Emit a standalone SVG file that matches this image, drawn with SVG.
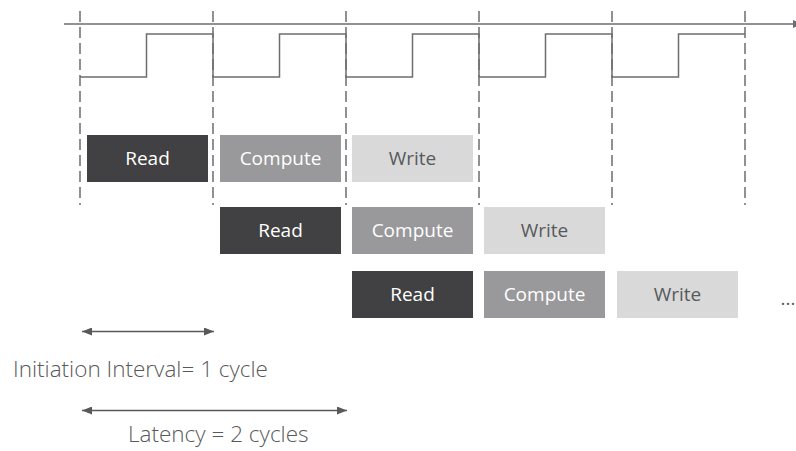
<svg xmlns="http://www.w3.org/2000/svg" width="796" height="451" viewBox="0 0 796 451">
  <style>
    .axis { stroke: #6d6e71; stroke-width: 1.5; fill: none; }
    .clock { stroke: #6d6e71; stroke-width: 1.5; fill: none; }
    .tick { stroke: #6d6e71; stroke-width: 1.5; stroke-dasharray: 11 5; fill: none; }
    .span { stroke: #58595b; stroke-width: 1.5; fill: none; }
    .read rect { fill: #414042; }
    .compute rect { fill: #99989b; }
    .write rect { fill: #d9d9d9; }
    .lbl { font-family: "Open Sans", "Liberation Sans", sans-serif; font-size: 19px; text-anchor: middle; }
    .read text, .compute text { fill: #ffffff; }
    .write text { fill: #58595b; }
    .note { font-family: "Open Sans", "Liberation Sans", sans-serif; font-size: 22.5px; font-weight: 300; fill: #58595b; }
  </style>
  <defs>
    <marker id="head" viewBox="0 0 10 8" refX="10" refY="4" markerWidth="10" markerHeight="8" markerUnits="userSpaceOnUse" orient="auto-start-reverse">
      <path d="M0,0 L10,4 L0,8 Z" fill="#58595b"/>
    </marker>
    <marker id="axhead" viewBox="0 0 10 8" refX="10" refY="4" markerWidth="10" markerHeight="8" markerUnits="userSpaceOnUse" orient="auto">
      <path d="M0,0 L10,4 L0,8 Z" fill="#6d6e71"/>
    </marker>
  </defs>

  <!-- time axis, clock waveform and cycle boundaries -->
  <g id="timeline">
    <line class="axis" x1="64" y1="24" x2="803" y2="24" marker-end="url(#axhead)"/>
    <path class="clock" d="M80,77 H146.5 V34 H213 V77 H279.5 V34 H346 V77 H412.5 V34 H479 V77 H545.5 V34 H612 V77 H678.5 V34 H745"/>
    <line class="tick" x1="80" y1="11" x2="80" y2="205"/>
    <line class="tick" x1="213" y1="11" x2="213" y2="205"/>
    <line class="tick" x1="346" y1="11" x2="346" y2="205"/>
    <line class="tick" x1="479" y1="11" x2="479" y2="205"/>
    <line class="tick" x1="612" y1="11" x2="612" y2="205"/>
    <line class="tick" x1="745" y1="11" x2="745" y2="205"/>
  </g>

  <!-- iteration 1 -->
  <g id="read1" class="read"><rect x="87" y="135" width="121" height="47"/><text class="lbl" x="147.5" y="165">Read</text></g>
  <g id="compute1" class="compute"><rect x="220" y="135" width="121" height="47"/><text class="lbl" x="280.5" y="165">Compute</text></g>
  <g id="write1" class="write"><rect x="352" y="135" width="121" height="47"/><text class="lbl" x="412.5" y="165">Write</text></g>

  <!-- iteration 2 -->
  <g id="read2" class="read"><rect x="220" y="207" width="121" height="47"/><text class="lbl" x="280.5" y="237">Read</text></g>
  <g id="compute2" class="compute"><rect x="352" y="207" width="121" height="47"/><text class="lbl" x="412.5" y="237">Compute</text></g>
  <g id="write2" class="write"><rect x="484" y="207" width="121" height="47"/><text class="lbl" x="544.5" y="237">Write</text></g>

  <!-- iteration 3 -->
  <g id="read3" class="read"><rect x="352" y="271" width="121" height="47"/><text class="lbl" x="412.5" y="301">Read</text></g>
  <g id="compute3" class="compute"><rect x="484" y="271" width="121" height="47"/><text class="lbl" x="544.5" y="301">Compute</text></g>
  <g id="write3" class="write"><rect x="617" y="271" width="121" height="47"/><text class="lbl" x="677.5" y="301">Write</text></g>

  <g id="more"><text class="lbl" x="788" y="305" fill="#58595b">...</text></g>

  <!-- interval / latency spans -->
  <g id="connectors">
    <line class="span" x1="82" y1="331.5" x2="214" y2="331.5" marker-start="url(#head)" marker-end="url(#head)"/>
    <line class="span" x1="82" y1="410.5" x2="347" y2="410.5" marker-start="url(#head)" marker-end="url(#head)"/>
  </g>
  <g id="ii-label"><text class="note" x="13" y="377">Initiation Interval= 1 cycle</text></g>
  <g id="latency-label"><text class="note" x="128" y="442">Latency = 2 cycles</text></g>
</svg>
